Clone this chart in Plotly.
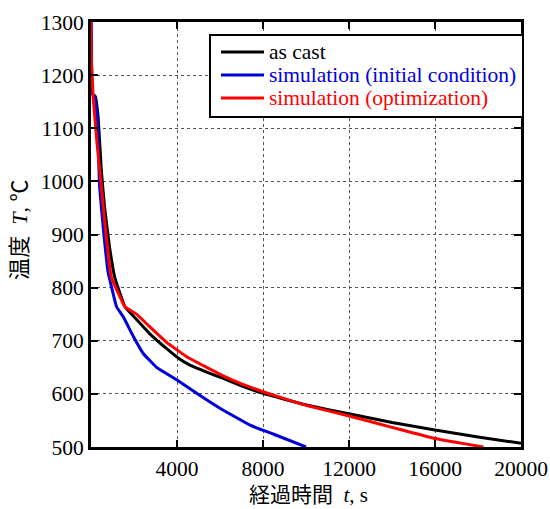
import plotly.graph_objects as go

# as cast
t_cast = [0, 20, 60, 200, 330, 480, 630, 850, 1100, 1580, 2120, 2740, 3520, 4140, 4600, 5380, 6150, 7000, 8000, 9000, 10030, 12050, 14000, 16000, 18000, 20000]
T_cast = [1300, 1230, 1165, 1160, 1122, 1021, 952, 880, 820, 764, 740, 713, 685, 665, 654, 641, 629, 615, 601, 590, 579, 562, 546, 532, 519, 507]

# simulation (initial condition)
t_init = [0, 20, 60, 170, 290, 400, 600, 790, 880, 1190, 1500, 1970, 2430, 3050, 4000, 5070, 6000, 7400, 8500, 10000]
T_init = [1300, 1230, 1165, 1159, 1122, 990, 900, 830, 814, 764, 745, 708, 676, 650, 626, 597, 573, 541, 524, 500]

# simulation (optimization)
t_opt = [0, 20, 100, 265, 480, 700, 945, 1580, 2120, 2740, 3520, 4450, 5380, 6150, 7000, 8000, 9000, 10030, 12050, 14000, 16000, 18250]
T_opt = [1300, 1230, 1159, 1078, 990, 900, 820, 764, 750, 726, 697, 670, 650, 634, 619, 604, 591, 578, 558, 537, 516, 500]

x_ticks = [4000, 8000, 12000, 16000, 20000]
y_ticks = [500, 600, 700, 800, 900, 1000, 1100, 1200, 1300]

names = ["as cast", "simulation (initial condition)", "simulation (optimization)"]
colors = ["black", "#0000dd", "#ff0000"]

fig = go.Figure()
for (tx, ty), nm, c in zip([(t_cast, T_cast), (t_init, T_init), (t_opt, T_opt)], names, colors):
    fig.add_trace(go.Scatter(
        x=tx, y=ty, mode="lines", line=dict(color=c, width=3, shape="spline", smoothing=0.3),
        name=nm, showlegend=False))

font_main = "Liberation Serif, Times New Roman, DejaVu Serif, serif"
font_jp = "Liberation Serif, Times New Roman, Noto Sans CJK JP, serif"
FS = 21.5

# manual legend (paper coordinates)
shapes = [dict(type="rect", xref="paper", yref="paper", x0=0.2767, x1=1.0047, y0=0.7765, y1=0.9694,
               line=dict(color="black", width=2), fillcolor="white", layer="above")]
annotations = []
row_y = [0.9294, 0.8753, 0.8212]
for nm, c, ry in zip(names, colors, row_y):
    shapes.append(dict(type="line", xref="paper", yref="paper", x0=0.3023, x1=0.4023, y0=ry, y1=ry,
                       line=dict(color=c, width=3), layer="above"))
    annotations.append(dict(text=nm, xref="paper", yref="paper", x=0.4093, y=ry,
                            xanchor="left", yanchor="middle", showarrow=False,
                            font=dict(size=FS, family=font_main, color=c)))

annotations += [
    dict(text="経過時間  <i>t</i>, s", xref="paper", yref="paper", x=0.505, y=-0.113,
         xanchor="center", yanchor="middle", showarrow=False,
         font=dict(size=21, family=font_jp)),
    dict(text="温度  <i>T</i>, ℃", xref="paper", yref="paper", x=-0.165, y=0.511,
         xanchor="center", yanchor="middle", textangle=-90, showarrow=False,
         font=dict(size=22, family=font_jp)),
]

axis_common = dict(showgrid=True, gridcolor="#555", griddash="dot", gridwidth=1,
                   showline=True, linecolor="black", linewidth=3, mirror="allticks",
                   ticks="inside", ticklen=7, tickwidth=2, tickcolor="black",
                   zeroline=False, automargin=False, tickfont=dict(family=font_main, size=FS))

fig.update_layout(
    width=550, height=509, autosize=False,
    margin=dict(l=91, r=29, t=22, b=62, autoexpand=False),
    paper_bgcolor="white", plot_bgcolor="white",
    font=dict(family=font_main, size=FS, color="black"),
    showlegend=False,
    xaxis=dict(range=[0, 20000], tickvals=x_ticks, ticktext=[str(v) for v in x_ticks], **axis_common),
    yaxis=dict(range=[500, 1300], tickvals=y_ticks, ticktext=[str(v) for v in y_ticks], **axis_common),
    shapes=shapes,
    annotations=annotations,
)

fig.write_html("out.html", config={"displayModeBar": False},
               post_script="document.documentElement.style.margin='0';document.body.style.margin='0';"
                           "document.body.style.overflow='hidden';")
